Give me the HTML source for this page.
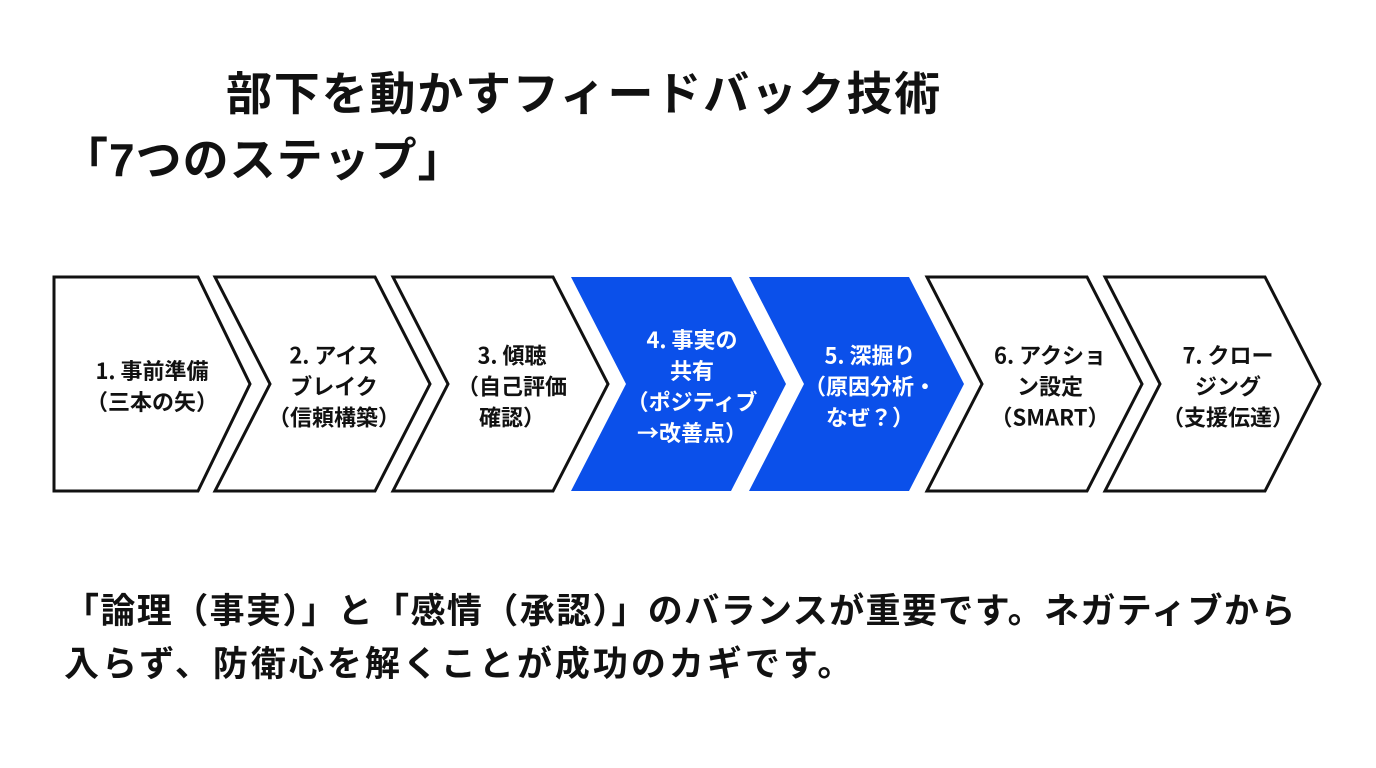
<!DOCTYPE html>
<html><head><meta charset="utf-8"><style>
body{margin:0;width:1376px;height:768px;background:#fff;overflow:hidden;font-family:"Liberation Sans","Noto Sans CJK JP",sans-serif;font-weight:bold;color:#111;position:relative}
.t{position:absolute;white-space:nowrap;font-weight:bold}
.lab{position:absolute;text-align:center;font-size:22px;line-height:31px;font-weight:bold;width:190px;transform:translate(-50%,-50%);font-family:"Noto Sans CJK JP",sans-serif}
</style></head><body>
<div class="t" style="left:226px;top:64px;font-size:46px;line-height:60px;letter-spacing:1.8px">部下を動かすフィードバック技術</div>
<div class="t" style="left:62px;top:130px;font-size:46px;line-height:60px;letter-spacing:1px">「7つのステップ」</div>
<svg width="1376" height="768" style="position:absolute;left:0;top:0">
<g stroke="#111" stroke-width="3" stroke-linejoin="miter">
<polygon points="54,277 198,277 250,384 198,491 54,491" fill="#fff"/>
<polygon points="215,277 375,277 430,384 375,491 215,491 270,384" fill="#fff"/>
<polygon points="393,277 553,277 608,384 553,491 393,491 448,384" fill="#fff"/>
<polygon points="571,277 731,277 786,384 731,491 571,491 626,384" fill="#0b50ea" stroke="none"/>
<polygon points="749,277 909,277 964,384 909,491 749,491 804,384" fill="#0b50ea" stroke="none"/>
<polygon points="927,277 1087,277 1142,384 1087,491 927,491 982,384" fill="#fff"/>
<polygon points="1105,277 1265,277 1320,384 1265,491 1105,491 1160,384" fill="#fff"/>
</g></svg>
<div class="lab" style="left:152px;top:386px">1. 事前準備<br>（三本の矢）</div>
<div class="lab" style="left:334px;top:386px">2. アイス<br>ブレイク<br>（信頼構築）</div>
<div class="lab" style="left:512px;top:386px">3. 傾聴<br>（自己評価<br>確認）</div>
<div class="lab" style="left:692px;top:386px;color:#fff">4. 事実の<br>共有<br>（ポジティブ<br>→改善点）</div>
<div class="lab" style="left:870px;top:386px;color:#fff">5. 深掘り<br>（原因分析・<br>なぜ？）</div>
<div class="lab" style="left:1050px;top:386px">6. アクショ<br>ン設定<br>（SMART）</div>
<div class="lab" style="left:1228px;top:386px">7. クロー<br>ジング<br>（支援伝達）</div>
<div class="t" style="left:64px;top:586px;font-size:35px;line-height:52px;letter-spacing:1.4px">「論理（事実）」と「感情（承認）」のバランスが重要です。ネガティブから</div>
<div class="t" style="left:64px;top:639px;font-size:35px;line-height:52px;letter-spacing:3px">入らず、防衛心を解くことが成功のカギです。</div>
</body></html>
